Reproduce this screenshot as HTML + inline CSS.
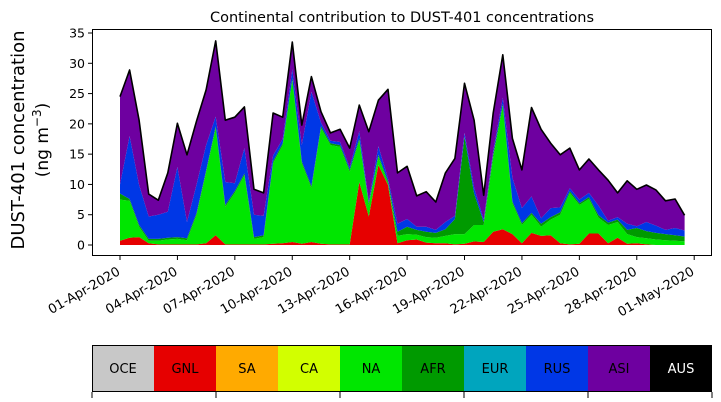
<!DOCTYPE html>
<html><head><meta charset="utf-8"><style>
body{margin:0;background:#fff;}
svg{display:block;font-family:"DejaVu Sans","Liberation Sans",sans-serif;}
</style></head><body>
<svg id="chart" width="721" height="402" viewBox="0 0 721 402">
<text x="402" y="22" text-anchor="middle" font-size="14.5">Continental contribution to DUST-401 concentrations</text>
<g transform="translate(24,140) rotate(-90)">
<text x="0" y="0" text-anchor="middle" font-size="18">DUST-401 concentration</text>
<text x="0" y="24" text-anchor="middle" font-size="17">(ng m<tspan dy="-7" font-size="12">−3</tspan><tspan dy="7">)</tspan></text>
</g>
<g id="areas"></g>
<g id="axes"></g>
<g id="cbar"></g>
</svg>
<script>
const regions=["OCE","GNL","SA","CA","NA","AFR","EUR","RUS","ASI","AUS"];
const colors=["#c8c8c8","#e60000","#ffaa00","#d2ff00","#00e600","#009a00","#00a5be","#0037e6","#6e00a0","#000000"];
const yTicks=[0,5,10,15,20,25,30,35];
const xTickLabels=["01-Apr-2020","04-Apr-2020","07-Apr-2020","10-Apr-2020","13-Apr-2020","16-Apr-2020","19-Apr-2020","22-Apr-2020","25-Apr-2020","28-Apr-2020","01-May-2020"];
const xTickDays=[0,3,6,9,12,15,18,21,24,27,30];
const stepDays=0.5;
const GNL=[.7,1.2,1.3,.3,.1,.1,.1,.1,.1,.3,1.6,.1,.1,.1,.1,.1,.2,.3,.5,.2,.5,.2,.1,.1,.1,10.4,4.7,13.2,9.9,.3,.8,.9,.4,.3,.3,.1,.2,.6,.5,2.2,2.6,1.8,.3,2,1.5,1.6,.3,.1,.2,1.9,1.9,.3,1.2,.2,.3,.1,0,0,0,0];
const NA=[6.8,6.1,1.7,.4,.6,.8,.9,.7,4.9,11.7,17.7,6.2,8.5,11.4,.9,1.2,13.3,16.2,26.7,13.3,8.9,19.1,16.4,16.1,12,6.9,1.9,1.4,.3,1.2,1,.8,.9,.9,1.2,1.7,1.6,2.7,2.8,12.3,20.4,5.1,3,3,1.5,2.6,4.7,8.5,6.4,5.7,2.6,3,2.6,1.6,1,1,.9,.8,.7,.6];
const AFR=[1,.3,.3,.3,.3,.3,.3,.3,.3,.3,.3,.3,.3,.3,.3,.3,.3,.3,.3,.3,.3,.3,.3,.3,.3,.3,.3,.3,.3,.7,1.2,.8,.9,.8,1.1,2.5,16.1,5.2,.5,.5,.3,.3,.3,.3,.5,.4,.4,.3,.3,.3,.4,.4,.4,.7,1.5,1.2,1.1,1,.9,.8];
const RUS=[1.5,10.4,6.6,3.7,4,4.3,11.6,2.7,4.7,4.2,1.6,3.8,1.3,4.2,3.7,3.2,1,.7,1.5,2.7,15.6,.6,.4,.5,.4,1.2,.3,1.4,.5,1.3,1.3,.5,.8,.5,1.2,.5,.6,1,.4,.5,1,3.9,2.5,2.7,.9,1.5,.8,.5,.6,.7,1.6,.3,.4,1,.3,1.5,1.2,.7,1.2,1];
const ASI=[14.5,10.9,10.7,3.7,2.4,6.4,7.2,11.1,10.5,9.1,12.5,10.2,10.9,6.8,4.2,3.8,7,3.6,4.5,3.3,2.5,1.8,1.3,2.1,3.2,4.3,11.5,7.6,14.7,8.4,8.7,5.1,5.8,4.6,8.1,9.5,8.2,11.1,4,6.3,7.1,6.5,6.3,14.7,14.7,10.7,8.7,6.6,4.9,5.6,5.9,6.7,4,7.1,6.1,6.1,5.9,4.8,4.8,2.5];
const zeros=GNL.map(()=>0);
const series=[zeros,GNL,zeros,zeros,NA,AFR,zeros,RUS,ASI,zeros];
const NS="http://www.w3.org/2000/svg";
const X0=92,X1=712,Y0=29,Y1=256;
const x=d=>120+d*19.14;
const y=v=>245-v*6.057;
function mk(t,a,p){const e=document.createElementNS(NS,t);for(const k in a)e.setAttribute(k,a[k]);p.appendChild(e);return e;}
const areas=document.getElementById('areas');
const n=GNL.length;
let base=new Array(n).fill(0);
series.forEach((s,k)=>{
  const top=base.map((b,i)=>b+s[i]);
  if(s.some(v=>v>0)){
    let d="";
    for(let i=0;i<n;i++)d+=(i?"L":"M")+x(i*stepDays).toFixed(1)+","+y(top[i]).toFixed(1);
    for(let i=n-1;i>=0;i--)d+="L"+x(i*stepDays).toFixed(1)+","+y(base[i]).toFixed(1);
    const p=mk('path',{d:d+"Z",fill:colors[k],stroke:'none'},areas);
    
    
  }
  base=top;
});
let ld="";
for(let i=0;i<n;i++)ld+=(i?"L":"M")+x(i*stepDays).toFixed(1)+","+y(base[i]).toFixed(1);
const tl=mk('path',{d:ld,fill:'none',stroke:'#000','stroke-width':1.6,'stroke-linejoin':'round'},areas);


const axes=document.getElementById('axes');
const fr=mk('rect',{x:X0+.5,y:Y0+.5,width:X1-X0-1,height:Y1-Y0-1,fill:'none',stroke:'#000','stroke-width':1},axes);


yTicks.forEach(v=>{
  const yy=y(v);
  mk('line',{x1:X0-4,x2:X0,y1:yy,y2:yy,stroke:'#000'},axes);
  const t=mk('text',{x:X0-7,y:yy+4.5,'text-anchor':'end','font-size':12.5},axes);
  t.textContent=v;
  
  
});
xTickDays.forEach((d,i)=>{
  const xx=x(d);
  mk('line',{x1:xx,x2:xx,y1:Y1,y2:Y1+4,stroke:'#000'},axes);
  const t=mk('text',{x:0,y:0,'text-anchor':'end','font-size':13,transform:`translate(${xx+1},${Y1+18}) rotate(-30)`},axes);
  t.textContent=xTickLabels[i];
  
  
});
const cb=document.getElementById('cbar');
const cw=(X1-X0)/regions.length;
regions.forEach((r,i)=>{
  const rc=mk('rect',{x:X0+i*cw,y:345,width:cw,height:47,fill:colors[i]},cb);
  
  
  const t=mk('text',{x:X0+i*cw+cw/2,y:373,'text-anchor':'middle','font-size':13,fill:r==="AUS"?"#fff":"#000"},cb);
  t.textContent=r;
  
  
});
mk('rect',{x:X0+.5,y:345.5,width:X1-X0-1,height:46,fill:'none',stroke:'#000','stroke-width':1},cb);
for(let k=0;k<=5;k++){const xx=X0+k*(X1-X0)/5;mk('line',{x1:xx,x2:xx,y1:392,y2:398,stroke:'#000'},cb);}
</script>
</body></html>
